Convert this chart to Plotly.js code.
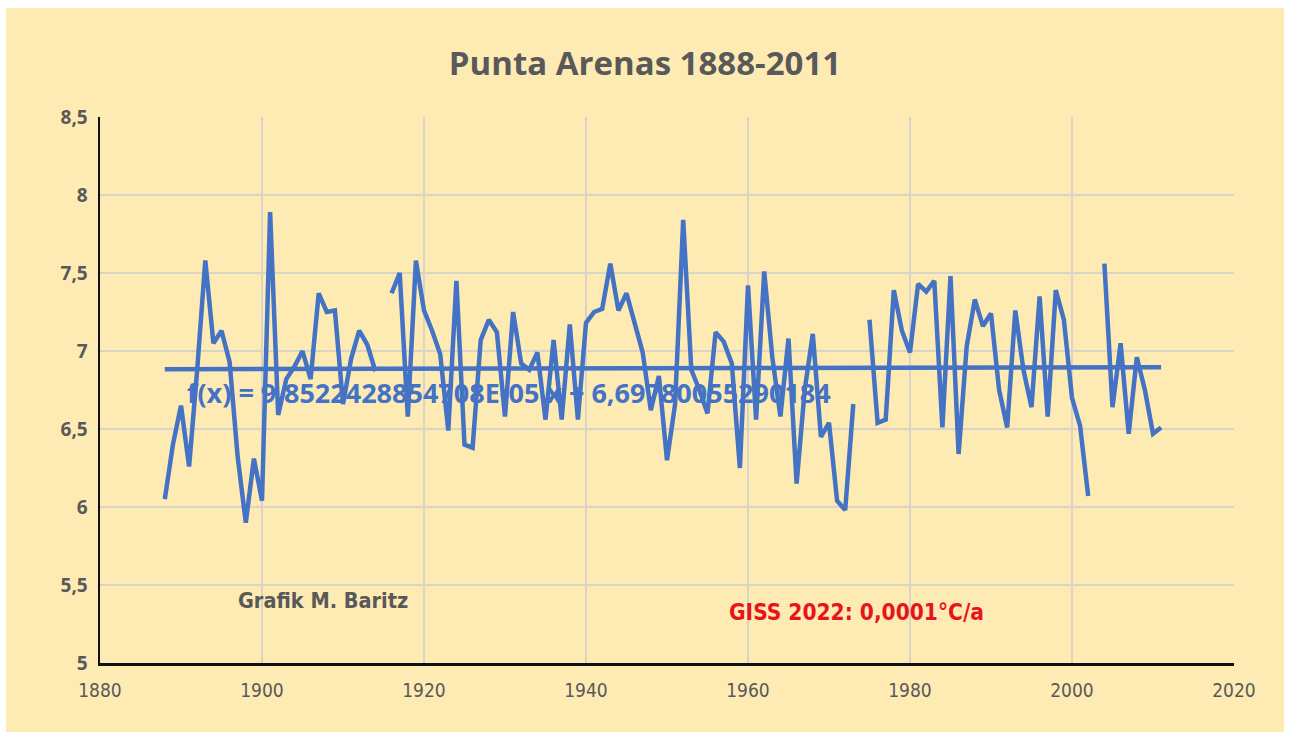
<!DOCTYPE html>
<html>
<head>
<meta charset="utf-8">
<script src="https://cdn.plot.ly/plotly-3.0.1.min.js"></script>
<style>
  html, body { margin: 0; padding: 0; background: #ffffff; }
  #chart { position: absolute; left: 6px; top: 8px; width: 1278px; height: 724px; }
</style>
</head>
<body>
<div id="chart"></div>
<script>
const years = [1888,1889,1890,1891,1892,1893,1894,1895,1896,1897,1898,1899,
  1900,1901,1902,1903,1904,1905,1906,1907,1908,1909,1910,1911,1912,1913,1914,1915,1916,1917,1918,1919,
  1920,1921,1922,1923,1924,1925,1926,1927,1928,1929,1930,1931,1932,1933,1934,1935,1936,1937,1938,1939,
  1940,1941,1942,1943,1944,1945,1946,1947,1948,1949,1950,1951,1952,1953,1954,1955,1956,1957,1958,1959,
  1960,1961,1962,1963,1964,1965,1966,1967,1968,1969,1970,1971,1972,1973,1974,1975,1976,1977,1978,1979,
  1980,1981,1982,1983,1984,1985,1986,1987,1988,1989,1990,1991,1992,1993,1994,1995,1996,1997,1998,1999,
  2000,2001,2002,2003,2004,2005,2006,2007,2008,2009,2010,2011];

const temperature = [6.05,6.40,6.65,6.26,6.88,7.58,7.05,7.13,6.93,6.32,5.90,6.31,
  6.04,7.89,6.59,6.82,6.90,7.00,6.82,7.37,7.25,7.26,6.66,6.95,7.13,7.04,6.87,null,7.37,7.50,6.58,7.58,
  7.26,7.13,6.98,6.49,7.45,6.40,6.38,7.07,7.20,7.12,6.58,7.25,6.92,6.88,6.99,6.56,7.07,6.56,7.17,6.56,
  7.18,7.25,7.27,7.56,7.26,7.37,7.18,6.99,6.62,6.84,6.30,6.66,7.84,6.88,6.75,6.60,7.12,7.06,6.92,6.25,
  7.42,6.56,7.51,6.96,6.58,7.08,6.15,6.75,7.11,6.45,6.54,6.04,5.98,6.66,null,7.20,6.54,6.56,7.39,7.13,
  6.99,7.43,7.38,7.45,6.51,7.48,6.34,7.03,7.33,7.16,7.24,6.75,6.51,7.26,6.88,6.64,7.35,6.58,7.39,7.20,
  6.70,6.52,6.07,null,7.56,6.64,7.05,6.47,6.96,6.75,6.47,6.51];

// Linear trend reported on the chart: f(x) = slope * x + intercept
const trendSlope = 9.8522428854708e-05;
const trendIntercept = 6.69780055290184;
const trendYears = [1888, 2011];
const trendValues = trendYears.map(y => trendSlope * y + trendIntercept);

const xTicks = [1880,1900,1920,1940,1960,1980,2000,2020];
const yTicks = [5,5.5,6,6.5,7,7.5,8,8.5];
const yTickLabels = ['5','5,5','6','6,5','7','7,5','8','8,5'];

const titleText = 'Punta Arenas 1888-2011';
const formulaText = 'f(x) = 9,8522428854708E-05 x + 6,69780055290184';
const authorText = 'Grafik M. Baritz';
const gissText = 'GISS 2022: 0,0001°C/a';

const blue = '#4472C4';
const bg = '#FEEBB4';

const traces = [
  {
    x: years, y: temperature, type: 'scatter', mode: 'lines',
    line: { color: blue, width: 4.5 }, connectgaps: false, hoverinfo: 'x+y'
  },
  {
    x: trendYears, y: trendValues, type: 'scatter', mode: 'lines',
    line: { color: blue, width: 4.5 }, hoverinfo: 'skip'
  }
];

const layout = {
  width: 1278, height: 724,
  paper_bgcolor: bg, plot_bgcolor: bg,
  showlegend: false,
  margin: { l: 94, r: 50, t: 109, b: 69 },
  separators: ', ',
  title: {
    text: '<b>' + titleText + '</b>',
    font: { family: 'Open Sans, Liberation Sans, sans-serif', size: 33, color: '#595959' },
    x: 0.5, xanchor: 'center', y: 0.924, yanchor: 'middle'
  },
  xaxis: {
    range: [1880, 2020], tickvals: xTicks, ticktext: xTicks.map(String),
    showgrid: true, gridcolor: '#D9D4C8', gridwidth: 1.5,
    showline: true, linecolor: '#111111', linewidth: 3,
    zeroline: false, ticks: '', ticklabelstandoff: 8,
    tickfont: { family: 'Liberation Sans Narrow, DejaVu Sans Condensed, sans-serif', size: 19, color: '#595959' }
  },
  yaxis: {
    range: [5, 8.5], tickvals: yTicks, ticktext: yTickLabels.map(t => '<b>' + t + '</b>'),
    showgrid: true, gridcolor: '#D9D4C8', gridwidth: 1.5,
    showline: true, linecolor: '#111111', linewidth: 2.5,
    zeroline: false, ticks: '', ticklabelstandoff: 6,
    tickfont: { family: 'Open Sans, Liberation Sans, sans-serif', size: 19, color: '#595959' }
  },
  annotations: [
    {
      text: '<b>' + formulaText + '</b>', xref: 'paper', yref: 'paper',
      x: 0.075, y: 0.496, xanchor: 'left', yanchor: 'middle', showarrow: false,
      font: { family: 'Open Sans, Liberation Sans, sans-serif', size: 27, color: blue }
    },
    {
      text: '<b>' + authorText + '</b>', xref: 'paper', yref: 'paper',
      x: 0.12, y: 0.114, xanchor: 'left', yanchor: 'middle', showarrow: false,
      font: { family: 'Liberation Sans Narrow, DejaVu Sans Condensed, sans-serif', size: 21.5, color: '#595959' }
    },
    {
      text: '<b>' + gissText + '</b>', xref: 'paper', yref: 'paper',
      x: 0.553, y: 0.093, xanchor: 'left', yanchor: 'middle', showarrow: false,
      font: { family: 'Liberation Sans Narrow, DejaVu Sans Condensed, sans-serif', size: 22.5, color: '#E8141C' }
    }
  ]
};

Plotly.newPlot('chart', traces, layout, { displayModeBar: false, staticPlot: true });
</script>
</body>
</html>
